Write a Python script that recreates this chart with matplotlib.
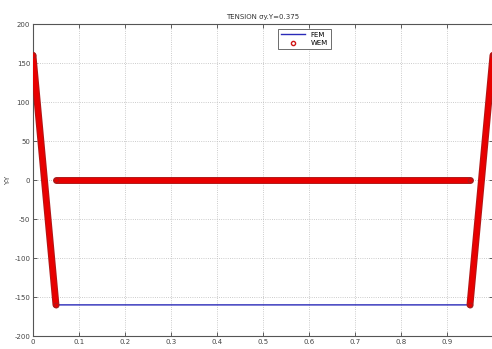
import numpy as np
import matplotlib
matplotlib.use('Agg')
import matplotlib.pyplot as plt
import matplotlib.patheffects as pe
from matplotlib.lines import Line2D

plt.rcParams['axes.unicode_minus'] = False

# FEM solution: piecewise linear breakpoints
fem_x = [0.0, 0.05, 0.95, 1.0]
fem_y = [160, -160, -160, 160]

# WEM solution: sloped ends and the zero plateau
wem_left_x = [0.0, 0.05]
wem_left_y = [160, -160]
wem_mid_x = [0.05, 0.95]
wem_mid_y = [0, 0]
wem_right_x = [0.95, 1.0]
wem_right_y = [-160, 160]

xticks = [0, 0.1, 0.2, 0.3, 0.4, 0.5, 0.6, 0.7, 0.8, 0.9, 1.0]
yticks = [-200, -150, -100, -50, 0, 50, 100, 150, 200]

fig = plt.figure(figsize=(4.92, 3.49), dpi=100)
ax = fig.add_axes([0.067, 0.037, 0.935, 0.894])

ax.plot(fem_x, fem_y, '-', color='#2a2ab8', lw=1.0, zorder=2)

# dense WEM circles rendered as a thick band with dark circle edges
band = [pe.Stroke(linewidth=5, foreground='#b01818'), pe.Normal()]
for xs, ys in [(wem_left_x, wem_left_y), (wem_mid_x, wem_mid_y),
               (wem_right_x, wem_right_y)]:
    ax.plot(xs, ys, '-', color='#e80000', lw=3.6, solid_capstyle='round',
            path_effects=band, zorder=3)
    ax.plot(xs, ys, 'o', ms=3.5, mfc='none', mec='#a02020', mew=0.6,
            zorder=4)

ax.set_xlim(0, 1)
ax.set_ylim(-200, 200)
ax.set_xticks(xticks)
ax.set_yticks(yticks)
ax.set_xticklabels(['0', '0.1', '0.2', '0.3', '0.4', '0.5', '0.6', '0.7',
                    '0.8', '0.9', ''])
ax.tick_params(direction='in', labelsize=5, colors='#444444', length=3,
               width=0.6, top=True, right=True, pad=2)
ax.grid(True, linestyle=':', color='#bbbbbb', lw=0.6)
for s in ax.spines.values():
    s.set_color('#555555')
    s.set_linewidth(0.8)

ax.set_title('TENSION σy.Y=0.375', fontsize=5, color='#333333', pad=4)
ax.set_ylabel('Y-Y', fontsize=5, color='#444444', labelpad=2)

handles = [Line2D([], [], color='#2a2ab8', lw=1.0),
           Line2D([], [], ls='none', marker='o', ms=3, mfc='none',
                  mec='#d01515', mew=1.0)]
leg = ax.legend(handles, ['FEM', 'WEM'], loc='upper left',
                bbox_to_anchor=(0.525, 0.995), fontsize=5, fancybox=False,
                framealpha=1, edgecolor='#555555', handlelength=3.5,
                borderpad=0.4, labelspacing=0.3)
leg.get_frame().set_linewidth(0.6)

fig.savefig('out.png', dpi=100)
